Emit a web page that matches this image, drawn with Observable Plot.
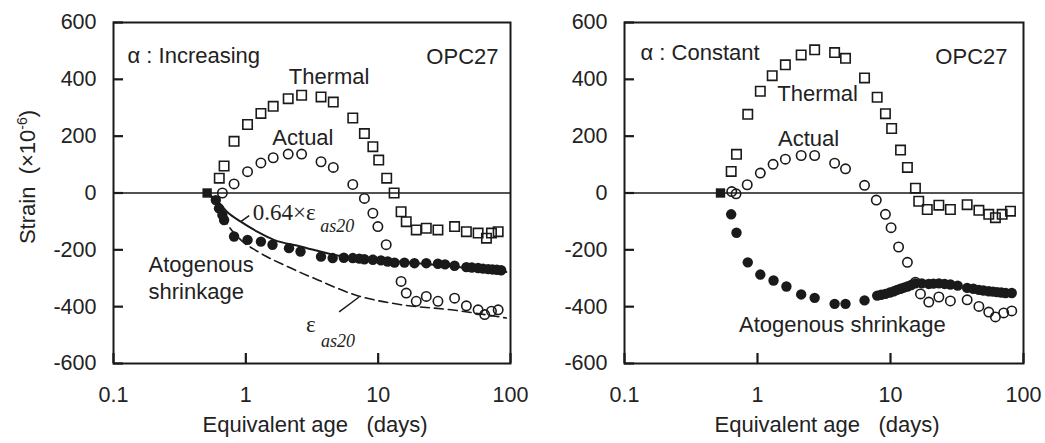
<!DOCTYPE html>
<html><head><meta charset="utf-8">
<script src="https://cdn.jsdelivr.net/npm/d3@7"></script>
<script src="https://cdn.jsdelivr.net/npm/@observablehq/plot@0.6"></script>
<style>
body{margin:0;background:#fff;}
#wrap{position:relative;width:1045px;height:443px;font-family:"Liberation Sans",Arial,sans-serif;color:#222;}
#left,#right{position:absolute;top:0;}
#left{left:0}
#right{left:522px}
#ylab{position:absolute;left:28px;top:177px;transform:translate(-50%,-50%) rotate(-90deg);font-size:22px;white-space:nowrap;line-height:1;}
#ylab sup{font-size:14px;vertical-align:0.6em;line-height:0;}
</style></head>
<body><div id="wrap"><div id="left"></div><div id="right"></div><div id="ylab">Strain&nbsp;&nbsp;(×10<sup>-6</sup>)</div></div>
<script>
// ---------- axes ----------
const xTicks = [0.1, 1, 10, 100];
const xTickLabels = ["0.1", "1", "10", "100"];
const yTicks = [-600, -400, -200, 0, 200, 400, 600];
const yTickLabels = ["-600", "-400", "-200", "0", "200", "400", "600"];
const xLabel = "Equivalent age\u00a0\u00a0\u00a0(days)";

// ---------- left panel (alpha increasing) ----------
const startL_age = [0.51];
const startL_strain = [0];
const thermalL_age = [0.63, 0.685, 0.815, 1.03, 1.30, 1.61, 2.09, 2.64, 3.70, 4.58, 6.43, 7.87, 9.12, 10.1, 11.6, 13.2, 14.9, 16.3, 19.4, 23.1, 28.3, 37.8, 46.4, 56.9, 65.8, 71.8, 80.7];
const thermalL_strain = [52, 95, 182, 241, 280, 305, 332, 344, 338, 320, 264, 209, 163, 116, 52, 0, -66, -101, -130, -124, -130, -118, -136, -141, -159, -141, -136];
const actualL_age = [0.665, 0.815, 1.03, 1.30, 1.61, 2.09, 2.64, 3.70, 4.58, 6.43, 7.87, 9.12, 9.95, 11.5, 14.9, 16.3, 19.4, 23.1, 28.3, 37.8, 46.4, 56.9, 63.8, 71.8, 80.7];
const actualL_strain = [0, 32, 75, 106, 124, 137, 137, 110, 90, 30, -19, -71, -118, -182, -311, -352, -381, -364, -381, -370, -397, -411, -428, -416, -411];
const autoL_age = [0.593, 0.627, 0.665, 0.685, 0.815, 1.03, 1.30, 1.59, 2.12, 2.59, 3.70, 4.53, 5.5, 6.43, 7.2, 7.87, 9.12, 10.5, 11.8, 13.3, 15.8, 18.8, 23.1, 28.3, 32, 37.8, 46.4, 51, 56.9, 62, 67.8, 73, 78.8, 85];
const autoL_strain = [-25, -54, -77, -95, -153, -165, -171, -182, -194, -206, -224, -229, -228, -229, -231, -233, -235, -237, -241, -245, -245, -247, -247, -249, -251, -256, -261, -262, -264, -266, -268, -269, -270, -272];
const fit064_age = [0.51, 0.6, 0.72, 0.916, 1.23, 1.63, 2.59, 4.67, 8, 14.9, 35, 93];
const fit064_strain = [0, -25, -66, -101, -137, -165, -188, -218, -232, -242, -258, -278];
const eas20_age = [0.51, 0.645, 0.72, 0.916, 1.23, 2.06, 3.47, 6.63, 14.9, 35.6, 93];
const eas20_strain = [0, -60, -106, -165, -206, -259, -305, -358, -393, -411, -440];

// ---------- right panel (alpha constant) ----------
const startR_age = [0.527];
const startR_strain = [0];
const thermalR_age = [0.634, 0.695, 0.845, 1.05, 1.29, 1.62, 2.13, 2.69, 3.80, 4.59, 6.38, 7.94, 9.16, 10.2, 11.9, 13.4, 15.4, 16.3, 18.9, 23.1, 28.2, 37.7, 46.2, 54.8, 61.5, 69.1, 79.8];
const thermalR_strain = [76, 136, 277, 358, 413, 451, 486, 504, 494, 474, 405, 337, 279, 227, 151, 90, 17, -29, -58, -43, -58, -41, -61, -75, -87, -75, -64];
const actualR_age = [0.64, 0.69, 0.837, 1.05, 1.31, 1.62, 2.13, 2.69, 3.80, 4.59, 6.38, 7.82, 9.16, 10.1, 11.5, 13.4, 15.4, 16.8, 19.4, 23.1, 28.2, 37.7, 46.2, 54.8, 61.5, 71, 81.6];
const actualR_strain = [5, -3, 29, 70, 101, 119, 132, 132, 105, 85, 27, -25, -75, -122, -190, -244, -314, -355, -384, -366, -380, -376, -399, -419, -436, -422, -415];
const autoR_age = [0.634, 0.695, 0.845, 1.05, 1.32, 1.65, 2.13, 2.69, 3.80, 4.59, 6.38, 7.94, 8.5, 9.16, 9.9, 10.6, 11.2, 11.9, 12.6, 13.4, 14.3, 15.4, 17.2, 19.4, 21, 23.1, 25.5, 28.2, 32, 37.7, 42, 46.2, 50, 54.8, 59, 63.3, 68, 73.3, 81.6];
const autoR_strain = [-75, -140, -244, -287, -308, -329, -357, -369, -390, -390, -378, -361, -358, -355, -350, -346, -341, -337, -333, -329, -324, -318, -318, -320, -319, -318, -320, -322, -326, -334, -337, -341, -343, -346, -347, -349, -350, -352, -352];

const zip = (a, b) => a.map((x, i) => ({age: x, strain: b[i]}));
const ink = "#1a1a1a";
const sans = "Liberation Sans, Arial, sans-serif";
const serif = "Liberation Serif, Times New Roman, serif";
const TICK = 10;

function panel({width, marginLeft, marginRight, marks}) {
  const height = 443, marginTop = 22, marginBottom = 80;
  const frameW = width - marginLeft - marginRight;
  const frameH = height - marginTop - marginBottom;
  return Plot.plot({
    width, height, marginTop, marginBottom, marginLeft, marginRight,
    style: {fontFamily: sans, fontSize: "21.5px", color: "#222", background: "transparent", overflow: "visible"},
    x: {type: "log", domain: [0.1, 100], axis: null},
    y: {domain: [-600, 600], axis: null},
    marks: [
      // tick labels
      Plot.axisY(yTicks, {tickSize: 0, tickPadding: 17, tickFormat: d => yTickLabels[yTicks.indexOf(d)], fill: "#222"}),
      Plot.axisX(xTicks, {tickSize: 0, tickPadding: 23, tickFormat: d => xTickLabels[xTicks.indexOf(d)], fill: "#222"}),
      Plot.ruleY([0], {stroke: ink, strokeWidth: 1.6}),
      ...marks,
      Plot.frame({stroke: ink, strokeWidth: 2}),
      // inward tick marks (y ticks on left side, x ticks at bottom)
      Plot.ruleY(yTicks, {y: d => d, x1: 0.1, x2: 0.1, dx: TICK / 2, stroke: ink, strokeWidth: 2}),
      Plot.tickY(yTicks, {y: d => d, insetRight: frameW - TICK, stroke: ink, strokeWidth: 2.2, strokeOpacity: 1}),
      Plot.tickX(xTicks, {x: d => d, insetTop: frameH - TICK, stroke: ink, strokeWidth: 2.2, strokeOpacity: 1}),
      Plot.text([xLabel], {frameAnchor: "bottom", dy: 68, dx: 3, text: d => d, fontSize: 22, fill: "#222"})
    ]
  });
}

const dotOpen = (data, symbol) => Plot.dot(data, {x: "age", y: "strain", symbol, r: symbol === "square" ? 5.3 : 4.7, stroke: ink, strokeWidth: 1.6, fill: "none"});
const dotFill = (data, symbol, r) => Plot.dot(data, {x: "age", y: "strain", symbol, r, fill: ink, stroke: "none"});
const label = (x, y, t, o = {}) => Plot.text([{x, y, t}], {x: "x", y: "y", text: "t", fontSize: 22, fill: "#222", ...o});

const left = panel({
  width: 522, marginLeft: 113, marginRight: 12,
  marks: [
    Plot.line(zip(eas20_age, eas20_strain), {x: "age", y: "strain", stroke: ink, strokeWidth: 1.6, strokeDasharray: "9,5", curve: "monotone-x"}),
    Plot.line(zip(fit064_age, fit064_strain), {x: "age", y: "strain", stroke: ink, strokeWidth: 2, curve: "monotone-x"}),
    dotOpen(zip(thermalL_age, thermalL_strain), "square"),
    dotOpen(zip(actualL_age, actualL_strain), "circle"),
    dotFill(zip(autoL_age, autoL_strain), "circle", 5.2),
    dotFill(zip(startL_age, startL_strain), "square", 5.3),
    Plot.text(["\u03b1 : Increasing"], {frameAnchor: "top-left", dx: 14, dy: 25, textAnchor: "start", text: d => d, fontSize: 22, fill: "#222"}),
    Plot.text(["OPC27"], {frameAnchor: "top-right", dx: -12, dy: 26, textAnchor: "end", text: d => d, fontSize: 22, fill: "#222"}),
    label(4.26, 407, "Thermal"),
    label(2.70, 193, "Actual"),
    label(0.184, -253, "Atogenous", {textAnchor: "start"}),
    label(0.184, -347, "shrinkage", {textAnchor: "start"}),
    label(1.13, -70, "0.64×\u03b5", {textAnchor: "start", fontFamily: serif, fontSize: 23}),
    label(3.65, -116, "as20", {textAnchor: "start", fontFamily: serif, fontStyle: "italic", fontSize: 18}),
    Plot.link([{x1: 0.916, y1: -101, x2: 1.06, y2: -80}], {x1: "x1", y1: "y1", x2: "x2", y2: "y2", stroke: ink, strokeWidth: 1.5}),
    label(3.10, -463, "\u03b5", {fontFamily: serif, fontSize: 23}),
    label(3.70, -523, "as20", {textAnchor: "start", fontFamily: serif, fontStyle: "italic", fontSize: 18}),
    Plot.link([{x1: 5.07, y1: -418, x2: 7.18, y2: -366}], {x1: "x1", y1: "y1", x2: "x2", y2: "y2", stroke: ink, strokeWidth: 1.5})
  ]
});

const right = panel({
  width: 523, marginLeft: 102, marginRight: 22,
  marks: [
    label(2.83, 348, "Thermal"),
    label(2.42, 191, "Actual"),
    label(4.35, -465, "Atogenous shrinkage"),
    dotOpen(zip(thermalR_age, thermalR_strain), "square"),
    dotOpen(zip(actualR_age, actualR_strain), "circle"),
    dotFill(zip(autoR_age, autoR_strain), "circle", 5.2),
    dotFill(zip(startR_age, startR_strain), "square", 5.3),
    Plot.text(["\u03b1 : Constant"], {frameAnchor: "top-left", dx: 16, dy: 22, textAnchor: "start", text: d => d, fontSize: 22, fill: "#222"}),
    Plot.text(["OPC27"], {frameAnchor: "top-right", dx: -16, dy: 26, textAnchor: "end", text: d => d, fontSize: 22, fill: "#222"})
  ]
});

document.getElementById("left").appendChild(left);
document.getElementById("right").appendChild(right);
</script>
</body></html>
